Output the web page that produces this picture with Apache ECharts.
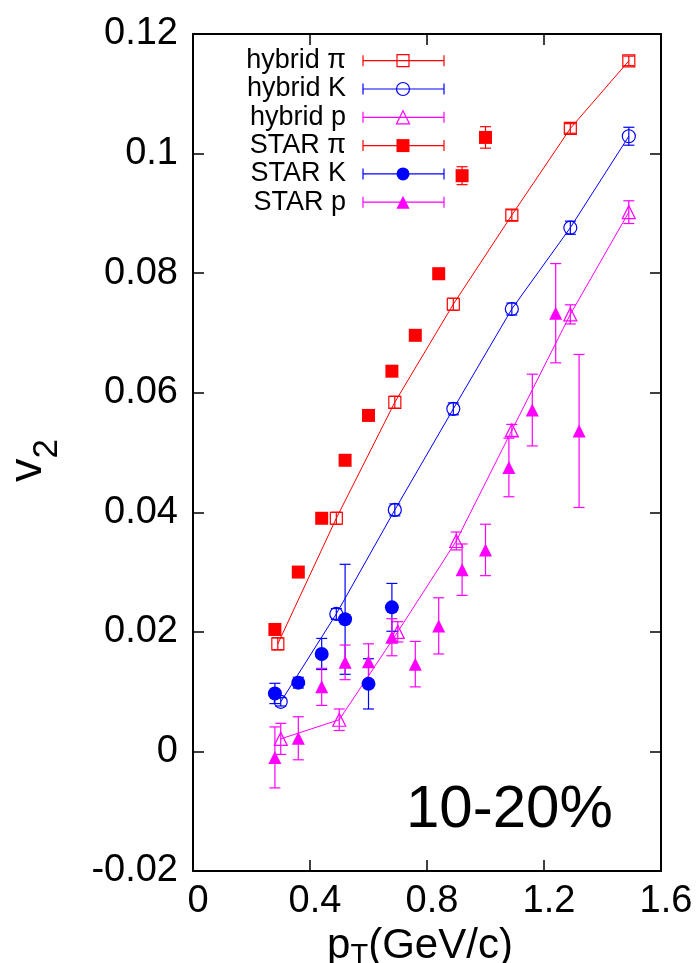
<!DOCTYPE html>
<html>
<head>
<meta charset="utf-8">
<script src="https://cdn.jsdelivr.net/npm/echarts@6/dist/echarts.min.js"></script>
<style>
  html, body { margin: 0; padding: 0; background: #fff; }
  #main { width: 700px; height: 963px; }
</style>
</head>
<body>
<div id="main"></div>
<script type="text/javascript">
    // hybrid model (open symbols, joined by lines)
    var hybridPiX = [0.29, 0.49, 0.69, 0.89, 1.09, 1.29, 1.49];
    var hybridPiY = [0.0180, 0.0390, 0.0584, 0.0748, 0.0897, 0.1042, 0.1155];
    var hybridPiErr = [0.0010, 0.0010, 0.0010, 0.0010, 0.0009, 0.0008, 0.0008];

    var hybridKX = [0.30, 0.49, 0.69, 0.89, 1.09, 1.29, 1.49];
    var hybridKY = [0.0083, 0.0230, 0.0404, 0.0573, 0.0740, 0.0876, 0.1029];
    var hybridKErr = [0.0007, 0.0009, 0.0010, 0.0010, 0.0010, 0.0011, 0.0015];

    var hybridPX = [0.30, 0.50, 0.70, 0.90, 1.09, 1.29, 1.49];
    var hybridPY = [0.0021, 0.0053, 0.0200, 0.0352, 0.0537, 0.0731, 0.0902];
    var hybridPErr = [0.0026, 0.0018, 0.0017, 0.0015, 0.0010, 0.0016, 0.0019];

    // STAR data (filled symbols)
    var starPiX = [0.28, 0.36, 0.44, 0.52, 0.60, 0.68, 0.76, 0.84, 0.92, 1.00];
    var starPiY = [0.0204, 0.0300, 0.0390, 0.0487, 0.0562, 0.0636, 0.0696, 0.0799, 0.0963, 0.1027];
    var starPiErr = [0.0004, 0.0004, 0.0004, 0.0005, 0.0005, 0.0005, 0.0006, 0.0009, 0.0015, 0.0018];

    var starKX = [0.28, 0.36, 0.44, 0.52, 0.60, 0.68];
    var starKY = [0.0097, 0.0115, 0.0163, 0.0221, 0.0113, 0.0241];
    var starKErr = [0.0017, 0.0009, 0.0026, 0.0092, 0.0042, 0.0040];

    var starPX = [0.28, 0.36, 0.44, 0.52, 0.60, 0.68, 0.76, 0.84, 0.92, 1.00, 1.08, 1.16, 1.24, 1.32];
    var starPY = [-0.0010, 0.0022, 0.0108, 0.0149, 0.0150, 0.0191, 0.0146, 0.0210, 0.0304, 0.0337, 0.0475, 0.0571, 0.0733, 0.0536];
    var starPErr = [0.0051, 0.0036, 0.0031, 0.0029, 0.0030, 0.0031, 0.0038, 0.0047, 0.0043, 0.0043, 0.0049, 0.0060, 0.0083, 0.0128];

    var RED = '#ff0000', BLUE = '#0000ff', MAG = '#ff00ff';
    var FONT = 'Liberation Sans';

    function pts(xs, ys) {
        return xs.map(function (x, i) { return [x, ys[i]]; });
    }
    function bars(xs, ys, es) {
        return xs.map(function (x, i) { return [x, ys[i] - es[i], ys[i] + es[i]]; });
    }

    // vertical error bar with caps
    function errRender(color) {
        return function (params, api) {
            var x = api.value(0);
            var p1 = api.coord([x, api.value(1)]);
            var p2 = api.coord([x, api.value(2)]);
            var w = 5.5;
            var st = { stroke: color, lineWidth: 1.2 };
            return {
                type: 'group',
                children: [
                    { type: 'line', shape: { x1: p1[0], y1: p1[1], x2: p2[0], y2: p2[1] }, style: st },
                    { type: 'line', shape: { x1: p1[0] - w, y1: p1[1], x2: p1[0] + w, y2: p1[1] }, style: st },
                    { type: 'line', shape: { x1: p2[0] - w, y1: p2[1], x2: p2[0] + w, y2: p2[1] }, style: st }
                ]
            };
        };
    }
    function errSeries(name, xs, ys, es, color, z) {
        return {
            name: name, type: 'custom', renderItem: errRender(color),
            data: bars(xs, ys, es), encode: { x: 0, y: [1, 2] }, z: z, silent: true
        };
    }
    function lineSeries(name, xs, ys, color) {
        return {
            name: name, type: 'line', data: pts(xs, ys), symbol: 'none',
            lineStyle: { color: color, width: 1 }, z: 2, silent: true
        };
    }
    function markSeries(name, xs, ys, color, symbol, size, filled, z) {
        return {
            name: name, type: 'scatter', data: pts(xs, ys), symbol: symbol, symbolSize: size,
            itemStyle: filled ? { color: color, opacity: 1 } :
                { color: 'rgba(0,0,0,0)', borderColor: color, borderWidth: 1.2, opacity: 1 },
            z: z, silent: true
        };
    }

    var myChart = echarts.init(document.getElementById('main'));

    // legend drawn by hand: label, bar with caps, symbol
    var legendRows = [
        { text: 'hybrid \u03c0', color: RED, shape: 'rect', filled: false },
        { text: 'hybrid K', color: BLUE, shape: 'circle', filled: false },
        { text: 'hybrid p', color: MAG, shape: 'triangle', filled: false },
        { text: 'STAR \u03c0', color: RED, shape: 'rect', filled: true },
        { text: 'STAR K', color: BLUE, shape: 'circle', filled: true },
        { text: 'STAR p', color: MAG, shape: 'triangle', filled: true }
    ];
    var graphics = [];
    legendRows.forEach(function (r, i) {
        var y = 60.7 + i * 28.3;
        var st = { stroke: r.color, lineWidth: 1.2 };
        graphics.push({ type: 'text', x: 346, y: y, style: { text: r.text, align: 'right', verticalAlign: 'middle', fontSize: 27, fontFamily: FONT, fill: '#000' } });
        graphics.push({ type: 'line', shape: { x1: 363, y1: y, x2: 444, y2: y }, style: st });
        graphics.push({ type: 'line', shape: { x1: 363, y1: y - 5.5, x2: 363, y2: y + 5.5 }, style: st });
        graphics.push({ type: 'line', shape: { x1: 444, y1: y - 5.5, x2: 444, y2: y + 5.5 }, style: st });
        var fill = r.filled ? r.color : 'rgba(0,0,0,0)';
        var sst = { fill: fill, stroke: r.color, lineWidth: r.filled ? 0 : 1.2 };
        if (r.shape === 'rect') {
            var s = r.filled ? 13 : 12;
            graphics.push({ type: 'rect', shape: { x: 403 - s / 2, y: y - s / 2, width: s, height: s }, style: sst });
        } else if (r.shape === 'circle') {
            graphics.push({ type: 'circle', shape: { cx: 403, cy: y, r: 6.5 }, style: sst });
        } else {
            graphics.push({ type: 'polygon', shape: { points: [[403, y - 6.5], [409.5, y + 6.5], [396.5, y + 6.5]] }, style: sst });
        }
    });
    graphics.push({ type: 'text', x: 406, y: 810, style: { text: '10-20%', align: 'left', verticalAlign: 'middle', fontSize: 60, fontFamily: FONT, fill: '#000' } });

    var axisLine = { show: true, onZero: false, lineStyle: { color: '#000', width: 2 } };
    var axisTick = { show: true, inside: true, length: 11, lineStyle: { color: '#000', width: 1.5 } };

    var option = {
        backgroundColor: '#fff',
        animation: false,
        grid: { left: 193, right: 39, top: 34, bottom: 92, containLabel: false, outerBoundsMode: 'none' },
        xAxis: [
            {
                type: 'value', position: 'bottom', min: 0, max: 1.6, interval: 0.4,
                axisLine: axisLine, axisTick: axisTick, splitLine: { show: false },
                axisLabel: { fontSize: 38, fontFamily: FONT, color: '#000', margin: 12, padding: [0, 0, 0, 10] },
                name: 'p{sub|T}(GeV/c)', nameLocation: 'middle', nameGap: 43,
                nameTextStyle: {
                    fontSize: 42, fontFamily: FONT, color: '#000', padding: [0, 14, 0, 0],
                    rich: { sub: { fontSize: 29, fontFamily: FONT, color: '#000', padding: [18, 0, 0, 0] } }
                }
            },
            {
                type: 'value', position: 'top', min: 0, max: 1.6, interval: 0.4,
                axisLine: axisLine, axisTick: axisTick, splitLine: { show: false },
                axisLabel: { show: false }
            }
        ],
        yAxis: [
            {
                type: 'value', position: 'left', min: -0.02, max: 0.12, interval: 0.02,
                axisLine: axisLine, axisTick: axisTick, splitLine: { show: false },
                axisLabel: { fontSize: 38, fontFamily: FONT, color: '#000', margin: 15 },
                name: 'v{sub|2}', nameLocation: 'middle', nameGap: 128, nameRotate: 90,
                nameTextStyle: {
                    fontSize: 47, fontFamily: FONT, color: '#000', padding: [0, 16, 0, 0],
                    rich: { sub: { fontSize: 35, fontFamily: FONT, color: '#000', padding: [38, 0, 0, 0] } }
                }
            },
            {
                type: 'value', position: 'right', min: -0.02, max: 0.12, interval: 0.02,
                axisLine: axisLine, axisTick: axisTick, splitLine: { show: false },
                axisLabel: { show: false }
            }
        ],
        graphic: graphics,
        series: [
            lineSeries('hybrid π line', hybridPiX, hybridPiY, RED),
            lineSeries('hybrid K line', hybridKX, hybridKY, BLUE),
            lineSeries('hybrid p line', hybridPX, hybridPY, MAG),
            markSeries('hybrid π', hybridPiX, hybridPiY, RED, 'rect', 12, false, 3),
            errSeries('hybrid π err', hybridPiX, hybridPiY, hybridPiErr, RED, 4),
            markSeries('hybrid K', hybridKX, hybridKY, BLUE, 'circle', 13, false, 3),
            errSeries('hybrid K err', hybridKX, hybridKY, hybridKErr, BLUE, 4),
            markSeries('hybrid p', hybridPX, hybridPY, MAG, 'triangle', 13, false, 3),
            errSeries('hybrid p err', hybridPX, hybridPY, hybridPErr, MAG, 4),
            errSeries('STAR π err', starPiX, starPiY, starPiErr, RED, 5),
            markSeries('STAR π', starPiX, starPiY, RED, 'rect', 13, true, 6),
            errSeries('STAR K err', starKX, starKY, starKErr, BLUE, 5),
            markSeries('STAR K', starKX, starKY, BLUE, 'circle', 14, true, 6),
            errSeries('STAR p err', starPX, starPY, starPErr, MAG, 5),
            markSeries('STAR p', starPX, starPY, MAG, 'triangle', 13, true, 6)
        ]
    };
    myChart.setOption(option);
</script>
</body>
</html>
